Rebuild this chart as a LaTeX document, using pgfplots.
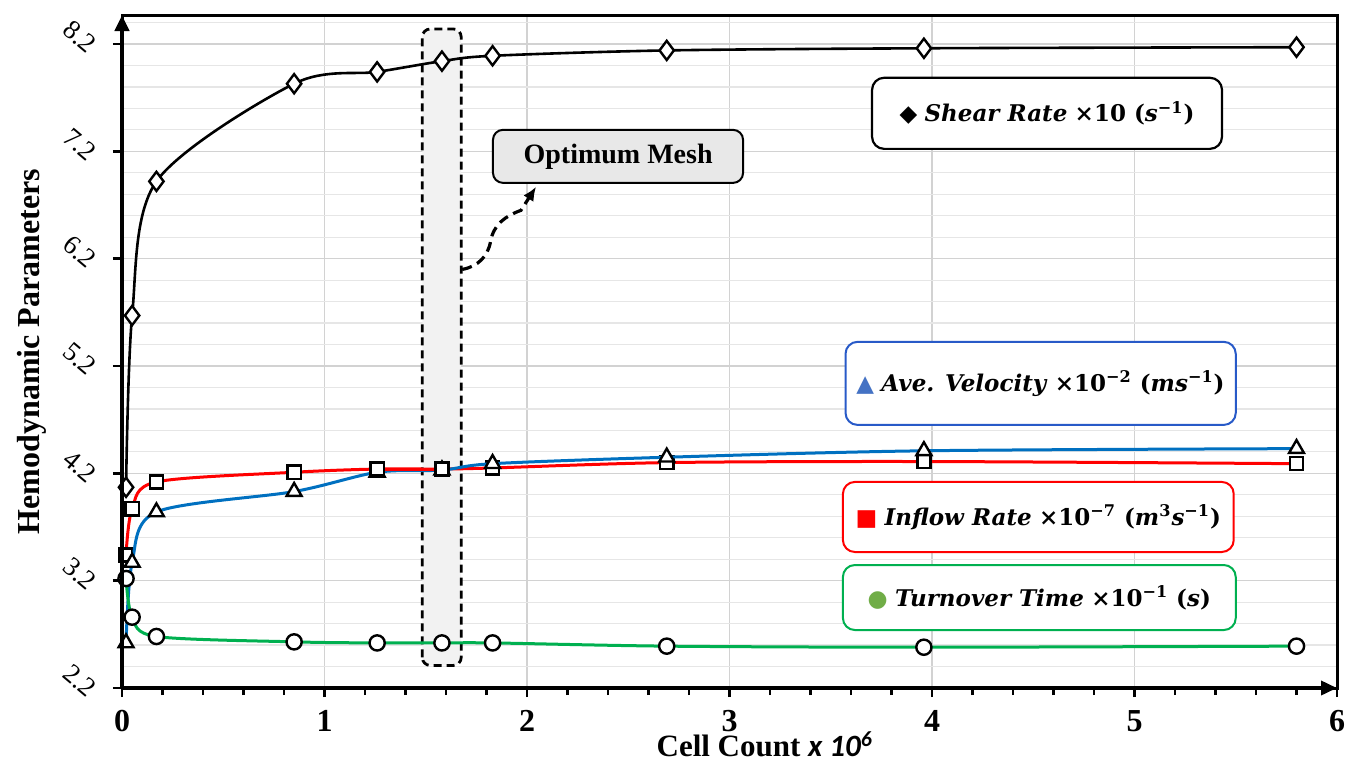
\documentclass[border=0pt]{standalone}
\usepackage{pgfplots}
\pgfplotsset{compat=1.18}
\usepackage{fontspec}
\setmainfont{Liberation Serif}
\newfontfamily\legfont{DejaVu Serif}
\newfontfamily\symfont{DejaVu Sans}
\newfontfamily\calfont{Carlito}
\usetikzlibrary{arrows.meta}
\definecolor{exblue}{RGB}{0,112,192}
\definecolor{exred}{RGB}{255,0,0}
\definecolor{exgreen}{RGB}{0,176,80}
\definecolor{legblue}{RGB}{68,114,196}
\definecolor{leggreen}{RGB}{112,173,71}
\definecolor{boxblue}{RGB}{40,90,200}
\definecolor{gridmaj}{RGB}{210,210,210}
\definecolor{gridmin}{RGB}{230,230,230}
\begin{document}
\begin{tikzpicture}
\begin{axis}[
  at={(0,0)}, anchor=south west,
  scale only axis, width=607.5pt, height=336.5pt,
  xmin=0, xmax=6, ymin=2.2, ymax=8.47,
  xtick={0,1,2,3,4,5,6},
  ytick={2.2,3.2,4.2,5.2,6.2,7.2,8.2},
  minor ytick={2.4,2.6,2.8,3.0,3.4,3.6,3.8,4.0,4.4,4.6,4.8,5.0,5.4,5.6,5.8,6.0,6.4,6.6,6.8,7.0,7.4,7.6,7.8,8.0,8.4},
  extra x ticks={0.2,0.4,0.6,0.8,1.2,1.4,1.6,1.8,2.2,2.4,2.6,2.8,3.2,3.4,3.6,3.8,4.2,4.4,4.6,4.8,5.2,5.4,5.6,5.8},
  extra x tick labels={},
  extra x tick style={grid=none, major tick length=3.5pt},
  xtick pos=bottom, ytick pos=left,
  tick align=outside, major tick length=4.5pt, minor tick length=0pt,
  tick style={black, line width=1.2pt},
  xmajorgrids, ymajorgrids, yminorgrids,
  major grid style={gridmaj, line width=0.7pt},
  minor grid style={gridmin, line width=0.6pt},
  axis line style={black, line width=1.5pt},
  clip mode=individual,
  /pgf/number format/assume math mode=true,
  ticklabel style={font=\bfseries\fontsize{16}{16}\selectfont},
  xticklabel style={yshift=-3pt},
  yticklabel={\rotatebox{-40}{\pgfmathprintnumber[fixed,fixed zerofill,precision=1]{\tick}}},
  yticklabel style={anchor=center, xshift=-16.5pt, yshift=3.5pt, font=\mdseries\fontsize{13.5}{14}\selectfont},
]
% optimum mesh highlight
\draw[line width=1.4pt, dash pattern=on 4pt off 2.5pt, rounded corners=4pt, fill=gray!10] (axis cs:1.483,2.41) rectangle (axis cs:1.675,8.34);
\draw[line width=1.6pt, dash pattern=on 5pt off 3pt, -{Latex[length=7pt,width=6pt]}]
  (axis cs:1.68,6.10) to[out=10,in=-100] (axis cs:1.82,6.36) to[out=80,in=200] (axis cs:1.97,6.65) -- (axis cs:2.045,6.87);
\draw[line width=1pt, rounded corners=5pt, fill=gray!18] (axis cs:1.832,6.906) rectangle (axis cs:3.067,7.40);
\node[font=\bfseries\fontsize{14}{14}\selectfont] at (axis cs:2.45,7.153) {Optimum Mesh};

% data
\addplot[exred, line width=1.5pt, smooth, mark=square*, mark size=3.3pt, mark options={fill=white, draw=black, line width=1.2pt}] coordinates {
(0.02,3.44) (0.05,3.87) (0.17,4.12) (0.85,4.21) (1.26,4.24) (1.58,4.24) (1.83,4.25) (2.69,4.30) (3.96,4.31) (5.8,4.29)};
\addplot[exblue, line width=1.5pt, smooth, mark=triangle*, mark size=4.3pt, mark options={fill=white, draw=black, line width=1.2pt}] coordinates {
(0.02,2.62) (0.05,3.37) (0.17,3.84) (0.85,4.03) (1.26,4.21) (1.58,4.23) (1.83,4.29) (2.69,4.35) (3.96,4.41) (5.8,4.43)};
\addplot[exred, line width=1.5pt, smooth, mark=square*, mark size=3.3pt, mark options={fill=white, draw=black, line width=1.2pt}, forget plot] coordinates {
(1.26,4.24) (1.58,4.24)};
\addplot[exgreen, line width=1.5pt, smooth, mark=*, mark size=3.8pt, mark options={fill=white, draw=black, line width=1.2pt}] coordinates {
(0.02,3.22) (0.05,2.86) (0.17,2.68) (0.85,2.63) (1.26,2.62) (1.58,2.62) (1.83,2.62) (2.69,2.59) (3.96,2.58) (5.8,2.59)};
\addplot[black, line width=1.3pt, smooth, mark=diamond*, mark size=4.8pt, mark options={fill=white, draw=black, line width=1.2pt}] coordinates {
(0.02,4.07) (0.05,5.67) (0.17,6.92) (0.85,7.83) (1.26,7.94) (1.58,8.04) (1.83,8.09) (2.69,8.14) (3.96,8.16) (5.8,8.17)};

% legend boxes
\draw[line width=1.1pt, rounded corners=6pt, fill=white] (axis cs:3.704,7.223) rectangle (axis cs:5.432,7.885);
\node[font=\legfont\fontsize{11.5}{12}\selectfont] at (axis cs:4.568,7.554) {{\symfont ◆}\ \textbf{\textit{Shear Rate}} \textbf{×10 (\textit{s}\textsuperscript{−1})}};
\draw[boxblue, line width=1pt, rounded corners=6pt, fill=white] (axis cs:3.573,4.651) rectangle (axis cs:5.5,5.425);
\node[font=\legfont\fontsize{11.5}{12}\selectfont] at (axis cs:4.536,5.038) {{\symfont\color{legblue}▲}\ \textbf{\textit{Ave. Velocity}} \textbf{×10\textsuperscript{−2} (\textit{ms}\textsuperscript{−1})}};
\draw[exred, line width=1pt, rounded corners=6pt, fill=white] (axis cs:3.56,3.467) rectangle (axis cs:5.49,4.12);
\node[font=\legfont\fontsize{11.5}{12}\selectfont] at (axis cs:4.525,3.793) {{\symfont\color{exred}■}\ \textbf{\textit{Inflow Rate}} \textbf{×10\textsuperscript{−7} (\textit{m}\textsuperscript{3}\textit{s}\textsuperscript{−1})}};
\draw[exgreen, line width=1pt, rounded corners=6pt, fill=white] (axis cs:3.56,2.74) rectangle (axis cs:5.5,3.346);
\node[font=\legfont\fontsize{11.5}{12}\selectfont] at (axis cs:4.53,3.043) {{\symfont\color{leggreen}●}\ \textbf{\textit{Turnover Time}} \textbf{×10\textsuperscript{−1} (\textit{s})}};

% axis arrows
\draw[line width=2pt, -{Triangle[length=8pt,width=7pt]}] (rel axis cs:0,0) -- (rel axis cs:0,1);
\draw[line width=1.8pt, -{Triangle[length=8pt,width=7pt]}] (rel axis cs:0,0) -- (rel axis cs:1,0);
% labels
\node[xshift=-45pt, rotate=90, font=\bfseries\fontsize{16}{16}\selectfont] at (rel axis cs:0,0.5) {Hemodynamic Parameters};
\node[yshift=-28pt, font=\bfseries\fontsize{15.5}{16}\selectfont, inner sep=1pt] at (rel axis cs:0.529,0) {Cell Count {\calfont\itshape x 10\textsuperscript{6}}};
\end{axis}
\path (-61pt,-39.5pt) rectangle (618.5pt,344pt);
\end{tikzpicture}
\end{document}
